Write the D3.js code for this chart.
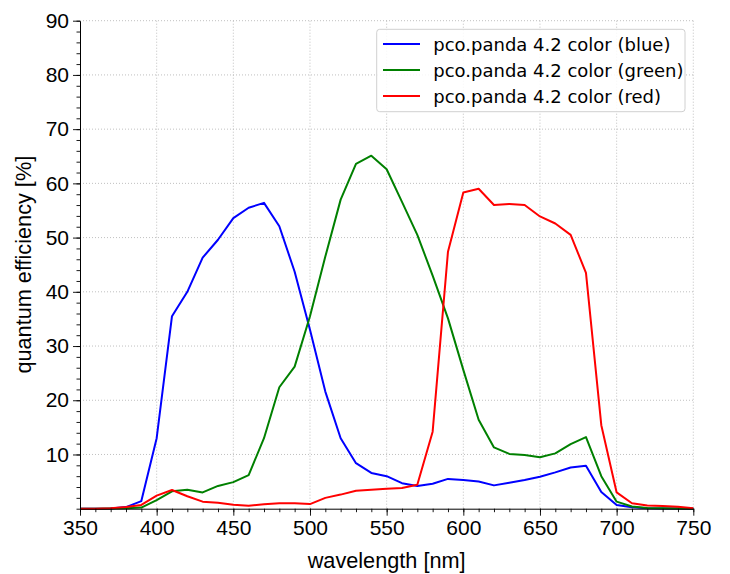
<!DOCTYPE html>
<html>
<head>
<meta charset="utf-8">
<script src="https://cdn.jsdelivr.net/npm/d3@7"></script>
<style>
  body { margin: 0; background: #fff; }
  text { font-family: "Liberation Sans", Arial, sans-serif; }
  .legend-label { font-family: "DejaVu Sans", sans-serif; }
</style>
</head>
<body>
<div id="canvas"></div>
<script>
// wavelengths (nm) and quantum efficiency (%)
const wavelengths = [350, 360, 370, 380, 390, 400, 410, 420, 430, 440, 450, 460, 470, 480, 490,
    500, 510, 520, 530, 540, 550, 560, 570, 580, 590, 600, 610, 620, 630, 640, 650,
    660, 670, 680, 690, 700, 710, 720, 730, 740, 750];

const blueQE = [0, 0, 0.05, 0.3, 1.4, 13.0, 35.5, 40.0, 46.3, 49.6, 53.6, 55.5, 56.4, 52.1, 43.7,
    33.0, 21.6, 13.0, 8.4, 6.6, 6.0, 4.7, 4.2, 4.6, 5.5, 5.3, 5.0, 4.3, 4.8, 5.3, 5.9,
    6.7, 7.6, 7.9, 3.1, 0.7, 0.25, 0.1, 0.05, 0.02, 0];

const greenQE = [0, 0, 0.05, 0.1, 0.2, 1.6, 3.2, 3.5, 3.0, 4.2, 4.9, 6.2, 13.0, 22.4, 26.2,
    35.5, 46.5, 57.0, 63.6, 65.1, 62.6, 56.6, 50.5, 43.0, 35.1, 25.6, 16.4, 11.3, 10.1, 9.9, 9.5,
    10.2, 11.9, 13.2, 6.0, 1.3, 0.4, 0.15, 0.1, 0.05, 0];

const redQE = [0, 0, 0.1, 0.3, 0.7, 2.4, 3.45, 2.3, 1.3, 1.1, 0.75, 0.55, 0.8, 1.0, 1.0,
    0.85, 2.0, 2.6, 3.3, 3.5, 3.7, 3.8, 4.4, 14.2, 47.4, 58.3, 59.0, 56.0, 56.2, 56.0, 53.9,
    52.6, 50.5, 43.5, 15.4, 3.0, 1.0, 0.6, 0.5, 0.35, 0.1];

const seriesNames = ["pco.panda 4.2 color (blue)", "pco.panda 4.2 color (green)", "pco.panda 4.2 color (red)"];
const seriesColors = ["#0000ff", "#008000", "#ff0000"];
const seriesValues = [blueQE, greenQE, redQE];

const xTicks = [350, 400, 450, 500, 550, 600, 650, 700, 750];
const yTicks = [10, 20, 30, 40, 50, 60, 70, 80, 90];

const width = 730;
const height = 574;
const margin = {top: 20.7, left: 80, bottom: 65.3, right: 36.7};
const iwidth = width - margin.left - margin.right;
const iheight = height - margin.top - margin.bottom;

const svg = d3.select("#canvas").append("svg")
    .attr("width", width)
    .attr("height", height);

const g = svg.append("g").attr("transform", `translate(${margin.left}, ${margin.top})`);

const x = d3.scaleLinear().domain([350, 750]).range([0, iwidth]);
const y = d3.scaleLinear().domain([0, 90]).range([iheight, 0]);

// grid
g.append("g").selectAll("line").data(xTicks.slice(1)).enter().append("line")
    .attr("x1", d => x(d)).attr("x2", d => x(d))
    .attr("y1", 0).attr("y2", iheight)
    .attr("stroke", "#b0b0b0").attr("stroke-width", 0.8).attr("stroke-dasharray", "1,2");
g.append("g").selectAll("line").data(yTicks).enter().append("line")
    .attr("x1", 0).attr("x2", iwidth)
    .attr("y1", d => y(d)).attr("y2", d => y(d))
    .attr("stroke", "#b0b0b0").attr("stroke-width", 0.8).attr("stroke-dasharray", "1,2");

// curves
const line = d3.line()
    .x((d, i) => x(wavelengths[i]))
    .y(d => y(d));

seriesValues.forEach((vals, k) => {
    g.append("path")
        .datum(vals)
        .attr("fill", "none")
        .attr("stroke", seriesColors[k])
        .attr("stroke-width", 2)
        .attr("stroke-linejoin", "round")
        .attr("d", line);
});

// axes with minor ticks
const xMinor = d3.range(350, 751, 10);
const yMinor = d3.range(0, 91, 2);

const xAxis = g.append("g").attr("transform", `translate(0, ${iheight})`);
xAxis.append("g").call(d3.axisBottom(x).tickValues(xMinor).tickSize(3.5).tickFormat(""))
    .call(a => a.select(".domain").remove());
xAxis.append("g").call(d3.axisBottom(x).tickValues(xTicks).tickSize(7).tickSizeOuter(0).tickPadding(4).tickFormat(d3.format("d")))
    .call(a => a.selectAll("text").style("font-size", "21px").attr("fill", "#000"));

const yAxis = g.append("g");
yAxis.append("g").call(d3.axisLeft(y).tickValues(yMinor).tickSize(3.5).tickFormat(""))
    .call(a => a.select(".domain").remove());
yAxis.append("g").call(d3.axisLeft(y).tickValues(yTicks).tickSize(7).tickSizeOuter(0).tickPadding(4).tickFormat(d3.format("d")))
    .call(a => a.selectAll("text").style("font-size", "21px").attr("fill", "#000"));

g.selectAll(".domain").attr("stroke", "#000").attr("stroke-width", 1);
g.selectAll(".tick line").attr("stroke", "#000").attr("stroke-width", 0.9);

// axis labels
svg.append("text")
    .attr("text-anchor", "middle")
    .style("font-size", "21.7px")
    .attr("x", margin.left + iwidth / 2)
    .attr("y", 567.5)
    .text("wavelength [nm]");

svg.append("text")
    .attr("text-anchor", "middle")
    .style("font-size", "21.7px")
    .attr("transform", `translate(30.5, ${margin.top + iheight / 2}) rotate(-90)`)
    .text("quantum efficiency [%]");

// legend
const legend = svg.append("g").attr("transform", "translate(376.7, 29.3)");
legend.append("rect")
    .attr("width", 308.3).attr("height", 82.4)
    .attr("rx", 3)
    .attr("fill", "#fff").attr("fill-opacity", 0.85)
    .attr("stroke", "#d0d0d0").attr("stroke-width", 1);

seriesNames.forEach((name, k) => {
    const row = legend.append("g").attr("transform", `translate(0, ${14.7 + k * 26})`);
    row.append("line")
        .attr("x1", 6.3).attr("x2", 43.3)
        .attr("y1", 0).attr("y2", 0)
        .attr("stroke", seriesColors[k]).attr("stroke-width", 2);
    row.append("text")
        .attr("class", "legend-label")
        .attr("x", 56.6).attr("y", 6.5)
        .style("font-size", "18px")
        .text(name);
});
</script>
</body>
</html>
